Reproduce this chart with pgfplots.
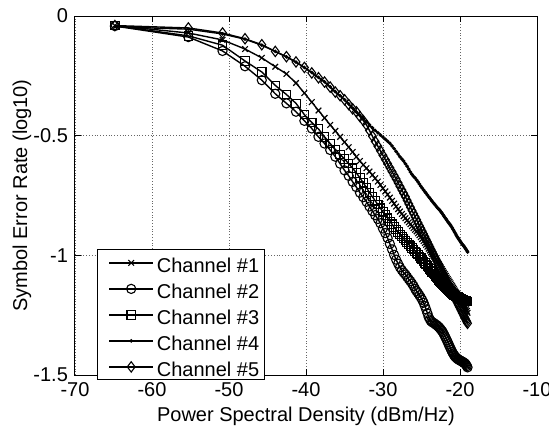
\documentclass[border=0pt]{standalone}
\usepackage{pgfplots}
\pgfplotsset{compat=1.18}
\usepackage{pgfplotstable}
\usepackage{fontspec}
\setmainfont{Liberation Sans}

\pgfplotstableread{
x c1 c2 c3 c4 c5
-64.82 -0.040 -0.042 -0.040 -0.045 -0.040
-55.28 -0.071 -0.088 -0.083 -0.055 -0.050
-50.84 -0.100 -0.146 -0.122 -0.075 -0.071
-47.92 -0.138 -0.210 -0.188 -0.097 -0.095
-45.74 -0.175 -0.268 -0.234 -0.122 -0.120
-43.99 -0.212 -0.325 -0.290 -0.148 -0.148
-42.54 -0.242 -0.365 -0.328 -0.171 -0.170
-41.30 -0.280 -0.400 -0.365 -0.193 -0.192
-40.21 -0.322 -0.438 -0.412 -0.215 -0.215
-39.25 -0.360 -0.470 -0.445 -0.236 -0.238
-38.38 -0.395 -0.505 -0.472 -0.256 -0.258
-37.59 -0.426 -0.533 -0.505 -0.275 -0.276
-36.86 -0.455 -0.560 -0.533 -0.296 -0.297
-36.19 -0.480 -0.588 -0.558 -0.316 -0.318
-35.57 -0.505 -0.617 -0.578 -0.333 -0.333
-34.99 -0.527 -0.645 -0.598 -0.350 -0.350
-34.45 -0.548 -0.668 -0.617 -0.367 -0.370
-33.94 -0.568 -0.693 -0.636 -0.385 -0.388
-33.46 -0.588 -0.715 -0.656 -0.401 -0.400
-33.00 -0.606 -0.738 -0.676 -0.415 -0.420
-32.56 -0.622 -0.757 -0.697 -0.429 -0.437
-32.15 -0.636 -0.776 -0.717 -0.442 -0.455
-31.76 -0.650 -0.796 -0.738 -0.455 -0.478
-31.38 -0.664 -0.815 -0.755 -0.467 -0.502
-31.02 -0.678 -0.832 -0.772 -0.478 -0.524
-30.67 -0.692 -0.848 -0.788 -0.488 -0.544
-30.34 -0.706 -0.866 -0.803 -0.497 -0.563
-30.01 -0.720 -0.888 -0.818 -0.506 -0.582
-29.70 -0.733 -0.907 -0.831 -0.515 -0.600
-29.40 -0.746 -0.928 -0.845 -0.523 -0.617
-29.11 -0.759 -0.952 -0.858 -0.532 -0.634
-28.83 -0.772 -0.975 -0.870 -0.543 -0.650
-28.56 -0.784 -0.998 -0.882 -0.554 -0.666
-28.30 -0.796 -1.018 -0.893 -0.566 -0.681
-28.04 -0.807 -1.035 -0.903 -0.577 -0.697
-27.80 -0.817 -1.050 -0.912 -0.588 -0.712
-27.55 -0.827 -1.062 -0.921 -0.597 -0.727
-27.32 -0.836 -1.072 -0.930 -0.606 -0.741
-27.09 -0.845 -1.080 -0.939 -0.617 -0.755
-26.87 -0.854 -1.090 -0.947 -0.628 -0.770
-26.65 -0.862 -1.100 -0.955 -0.640 -0.785
-26.44 -0.870 -1.108 -0.962 -0.652 -0.799
-26.23 -0.878 -1.118 -0.969 -0.662 -0.813
-26.03 -0.886 -1.128 -0.976 -0.670 -0.826
-25.83 -0.893 -1.140 -0.983 -0.677 -0.839
-25.64 -0.900 -1.150 -0.990 -0.685 -0.851
-25.45 -0.908 -1.158 -0.997 -0.693 -0.864
-25.27 -0.916 -1.167 -1.004 -0.702 -0.876
-25.09 -0.924 -1.176 -1.011 -0.711 -0.887
-24.91 -0.932 -1.186 -1.018 -0.719 -0.899
-24.73 -0.940 -1.198 -1.025 -0.727 -0.911
-24.56 -0.948 -1.212 -1.032 -0.734 -0.922
-24.40 -0.956 -1.226 -1.039 -0.741 -0.933
-24.23 -0.964 -1.242 -1.045 -0.748 -0.944
-24.07 -0.972 -1.258 -1.051 -0.755 -0.955
-23.91 -0.980 -1.268 -1.057 -0.762 -0.965
-23.76 -0.987 -1.275 -1.063 -0.768 -0.975
-23.61 -0.994 -1.279 -1.069 -0.774 -0.985
-23.46 -1.001 -1.282 -1.075 -0.780 -0.995
-23.31 -1.008 -1.285 -1.081 -0.786 -1.004
-23.16 -1.016 -1.289 -1.087 -0.792 -1.014
-23.02 -1.023 -1.292 -1.092 -0.798 -1.023
-22.88 -1.030 -1.296 -1.097 -0.803 -1.032
-22.74 -1.037 -1.300 -1.102 -0.808 -1.041
-22.61 -1.044 -1.305 -1.107 -0.812 -1.050
-22.48 -1.051 -1.310 -1.112 -0.818 -1.059
-22.34 -1.058 -1.316 -1.117 -0.824 -1.068
-22.21 -1.065 -1.322 -1.122 -0.830 -1.076
-22.09 -1.072 -1.330 -1.127 -0.836 -1.084
-21.96 -1.079 -1.338 -1.131 -0.842 -1.093
-21.84 -1.086 -1.346 -1.135 -0.847 -1.101
-21.71 -1.093 -1.355 -1.139 -0.853 -1.109
-21.59 -1.099 -1.363 -1.143 -0.859 -1.117
-21.47 -1.105 -1.372 -1.147 -0.864 -1.125
-21.36 -1.111 -1.380 -1.150 -0.869 -1.132
-21.24 -1.117 -1.388 -1.153 -0.874 -1.140
-21.13 -1.123 -1.396 -1.156 -0.879 -1.147
-21.01 -1.129 -1.404 -1.159 -0.885 -1.155
-20.90 -1.135 -1.410 -1.162 -0.892 -1.162
-20.79 -1.141 -1.416 -1.165 -0.898 -1.169
-20.68 -1.147 -1.421 -1.167 -0.904 -1.176
-20.58 -1.152 -1.425 -1.169 -0.910 -1.183
-20.47 -1.157 -1.428 -1.171 -0.916 -1.190
-20.37 -1.162 -1.431 -1.173 -0.922 -1.196
-20.26 -1.167 -1.434 -1.175 -0.927 -1.203
-20.16 -1.172 -1.436 -1.177 -0.932 -1.210
-20.06 -1.177 -1.438 -1.179 -0.937 -1.216
-19.96 -1.182 -1.440 -1.181 -0.942 -1.223
-19.86 -1.187 -1.441 -1.182 -0.947 -1.229
-19.76 -1.192 -1.443 -1.184 -0.951 -1.236
-19.67 -1.197 -1.445 -1.185 -0.955 -1.242
-19.57 -1.202 -1.447 -1.187 -0.959 -1.248
-19.48 -1.207 -1.449 -1.188 -0.963 -1.254
-19.38 -1.212 -1.451 -1.189 -0.967 -1.260
-19.29 -1.218 -1.454 -1.190 -0.972 -1.266
-19.20 -1.225 -1.458 -1.191 -0.976 -1.272
-19.11 -1.232 -1.463 -1.192 -0.981 -1.278
-19.02 -1.240 -1.468 -1.193 -0.986 -1.284
}\data

\begin{document}
\fontsize{10}{12}\selectfont
\begin{tikzpicture}
\begin{axis}[
  scale only axis, width=231pt, height=179.5pt,
  xmin=-70, xmax=-10, ymin=-1.5, ymax=0,
  xtick={-70,-60,-50,-40,-30,-20,-10},
  ytick={-1.5,-1,-0.5,0},
  yticklabels={-1.5,-1,-0.5,0},
  /pgf/number format/assume math mode=true,
  font=\fontsize{10}{12}\selectfont,
  tick label style={font=\fontsize{10}{12}\selectfont},
  grid=major,
  grid style={densely dotted, black!60, line width=0.4pt},
  axis line style={line width=0.5pt},
  tick style={line width=0.5pt, black},
  major tick length=3pt,
  xlabel={Power Spectral Density (dBm/Hz)},
  ylabel={Symbol Error Rate (log10)},
  every axis x label/.style={at={(axis description cs:0.5,-0.114)}, anchor=center},
  every axis y label/.style={at={(axis description cs:-0.115,0.5)}, anchor=center, rotate=90},
  legend cell align=left,
  legend image code/.code={\path (-3pt,0pt); \draw[mark repeat=2,mark phase=2,#1] plot coordinates {(0pt,0pt) (11pt,0pt) (22pt,0pt)};},
  legend style={at={(rel axis cs:0.0476,-0.015)}, anchor=south west, draw=black, line width=0.5pt, fill=white,
    font=\fontsize{10}{12}\selectfont,
    nodes={inner sep=0pt, text height=10pt, text depth=0pt},
    /tikz/every odd column/.append style={column sep=1.5pt},
    row sep=3pt, inner xsep=2.5pt, inner ysep=1.5pt},
  every axis plot/.append style={line width=0.7pt, black},
]
\addplot[mark=x, mark size=2pt, mark options={solid, line width=0.55pt}] table[x=x, y=c1] {\data};
\addplot[mark=o, mark size=2.3pt, mark options={solid, line width=0.55pt}] table[x=x, y=c2] {\data};
\addplot[mark=square, mark size=2.1pt, mark options={solid, line width=0.55pt}] table[x=x, y=c3] {\data};
\addplot[mark=*, mark size=0.5pt, mark options={solid}] table[x=x, y=c4] {\data};
\addplot[mark=diamond, mark size=2.6pt, mark options={solid, line width=0.55pt}] table[x=x, y=c5] {\data};
\legend{Channel \#1, Channel \#2, Channel \#3, Channel \#4, Channel \#5}
\end{axis}
\pgfresetboundingbox
\path[use as bounding box] (current axis.south west) ++(-37.5pt,-26.5pt) rectangle ++(274.5pt,214pt);
\end{tikzpicture}
\end{document}
